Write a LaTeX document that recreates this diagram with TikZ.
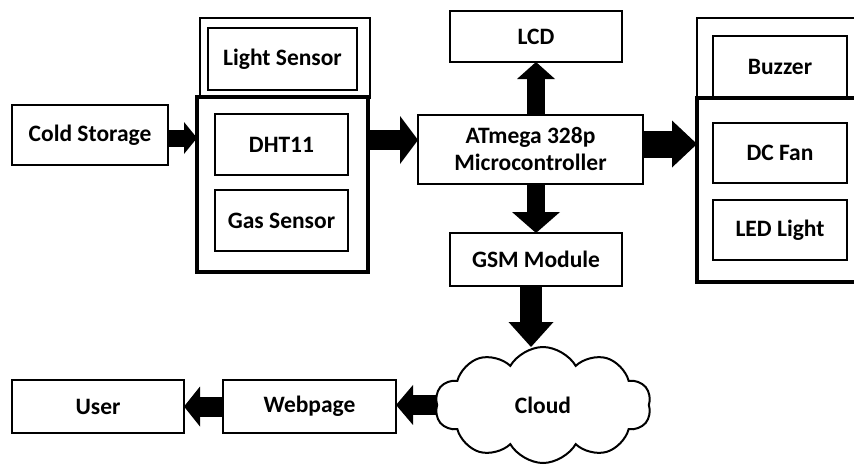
\documentclass[tikz,border=0pt]{standalone}
\usepackage{fontspec}
\setmainfont{Carlito}
\usetikzlibrary{arrows.meta,shapes.symbols}

\tikzset{
  label font/.style={font=\fontsize{23.5}{27}\selectfont\bfseries},
  thinbox/.style={draw, line width=2pt, fill=white, outer sep=0pt, inner sep=0pt,
    label font, align=center},
  thickbox/.style={thinbox, line width=4pt},
  frame/.style={draw, line width=2pt, outer sep=0pt, inner sep=0pt},
  fat/.style n args={3}{line width=#1pt, -{Triangle[width=#2pt, length=#3pt, line width=0pt]}},
}

\begin{document}
\begin{tikzpicture}[x=1pt, y=-1pt]
  \fill[white] (0,0) rectangle (854,466);
  \useasboundingbox (0,0) rectangle (854,466);
  \clip (0,0) rectangle (854,466);

  % input side
  \node[thinbox, minimum width=156, minimum height=60] (cold) at (90,135) {Cold Storage};
  \node[frame, minimum width=170, minimum height=80] (lsframe) at (285,57.5) {};
  \node[thickbox, minimum width=171, minimum height=175] (sens) at (282.5,184.5) {};
  \node[thinbox, minimum width=149, minimum height=62] (light) at (282.5,59) {Light Sensor};
  \node[thinbox, minimum width=133, minimum height=61] (dht) at (281.5,144.5) {DHT11};
  \node[thinbox, minimum width=133, minimum height=61] (gas) at (281.5,220.5) {Gas Sensor};

  % controller and its peripherals
  \node[thinbox, minimum width=172, minimum height=51] (lcd) at (536,36.5) {LCD};
  \node[thinbox, minimum width=225, minimum height=69] (mcu) at (530.5,149) {ATmega 328p\\Microcontroller};
  \node[thinbox, minimum width=172, minimum height=53] (gsm) at (536,259.5) {GSM Module};

  % output side
  \node[frame, minimum width=178, minimum height=80] (bzframe) at (786,58) {};
  \node[thickbox, minimum width=183, minimum height=184] (act) at (788.5,190) {};
  \node[thinbox, minimum width=134, minimum height=61] (buzz) at (780,66.5) {Buzzer};
  \node[thinbox, minimum width=134, minimum height=60] (fan) at (780,153) {DC Fan};
  \node[thinbox, minimum width=134, minimum height=60] (led) at (780,230) {LED Light};

  % cloud and web access
  \node[cloud, cloud puffs=10, cloud puff arc=120, aspect=1.8, draw, line width=2pt, fill=white,
        minimum width=216, minimum height=116, inner sep=0pt, outer sep=0pt,
        label font] (cloud) at (543,405) {Cloud};
  \node[thinbox, minimum width=173, minimum height=53] (web) at (309.5,406.5) {Webpage};
  \node[thinbox, minimum width=172, minimum height=53] (user) at (98,406.5) {User};

  % block arrows
  \draw[fat={17}{32}{13}] ([yshift=-3pt]cold.east) -- ([yshift=-3pt]cold.east -| sens.west);
  \draw[fat={20}{48}{18}] ([yshift=9pt]mcu.west -| sens.east) -- ([yshift=9pt]mcu.west);
  \draw[fat={18}{38}{17}] (lcd.south |- mcu.north) -- (lcd.south);
  \draw[fat={18}{48}{21}] (gsm.north |- mcu.south) -- (gsm.north);
  \draw[fat={27}{47}{25}] ([yshift=5pt]mcu.east) -- ([yshift=5pt]mcu.east -| act.west);
  \draw[fat={22}{45}{25}] ([xshift=-5pt]gsm.south) -- ([xshift=-5pt]gsm.south |- cloud.north);
  \draw[fat={20}{40}{17}] (cloud.west) -- (cloud.west -| web.east);
  \draw[fat={20}{40}{16}] (web.west) -- (user.east);
\end{tikzpicture}
\end{document}
